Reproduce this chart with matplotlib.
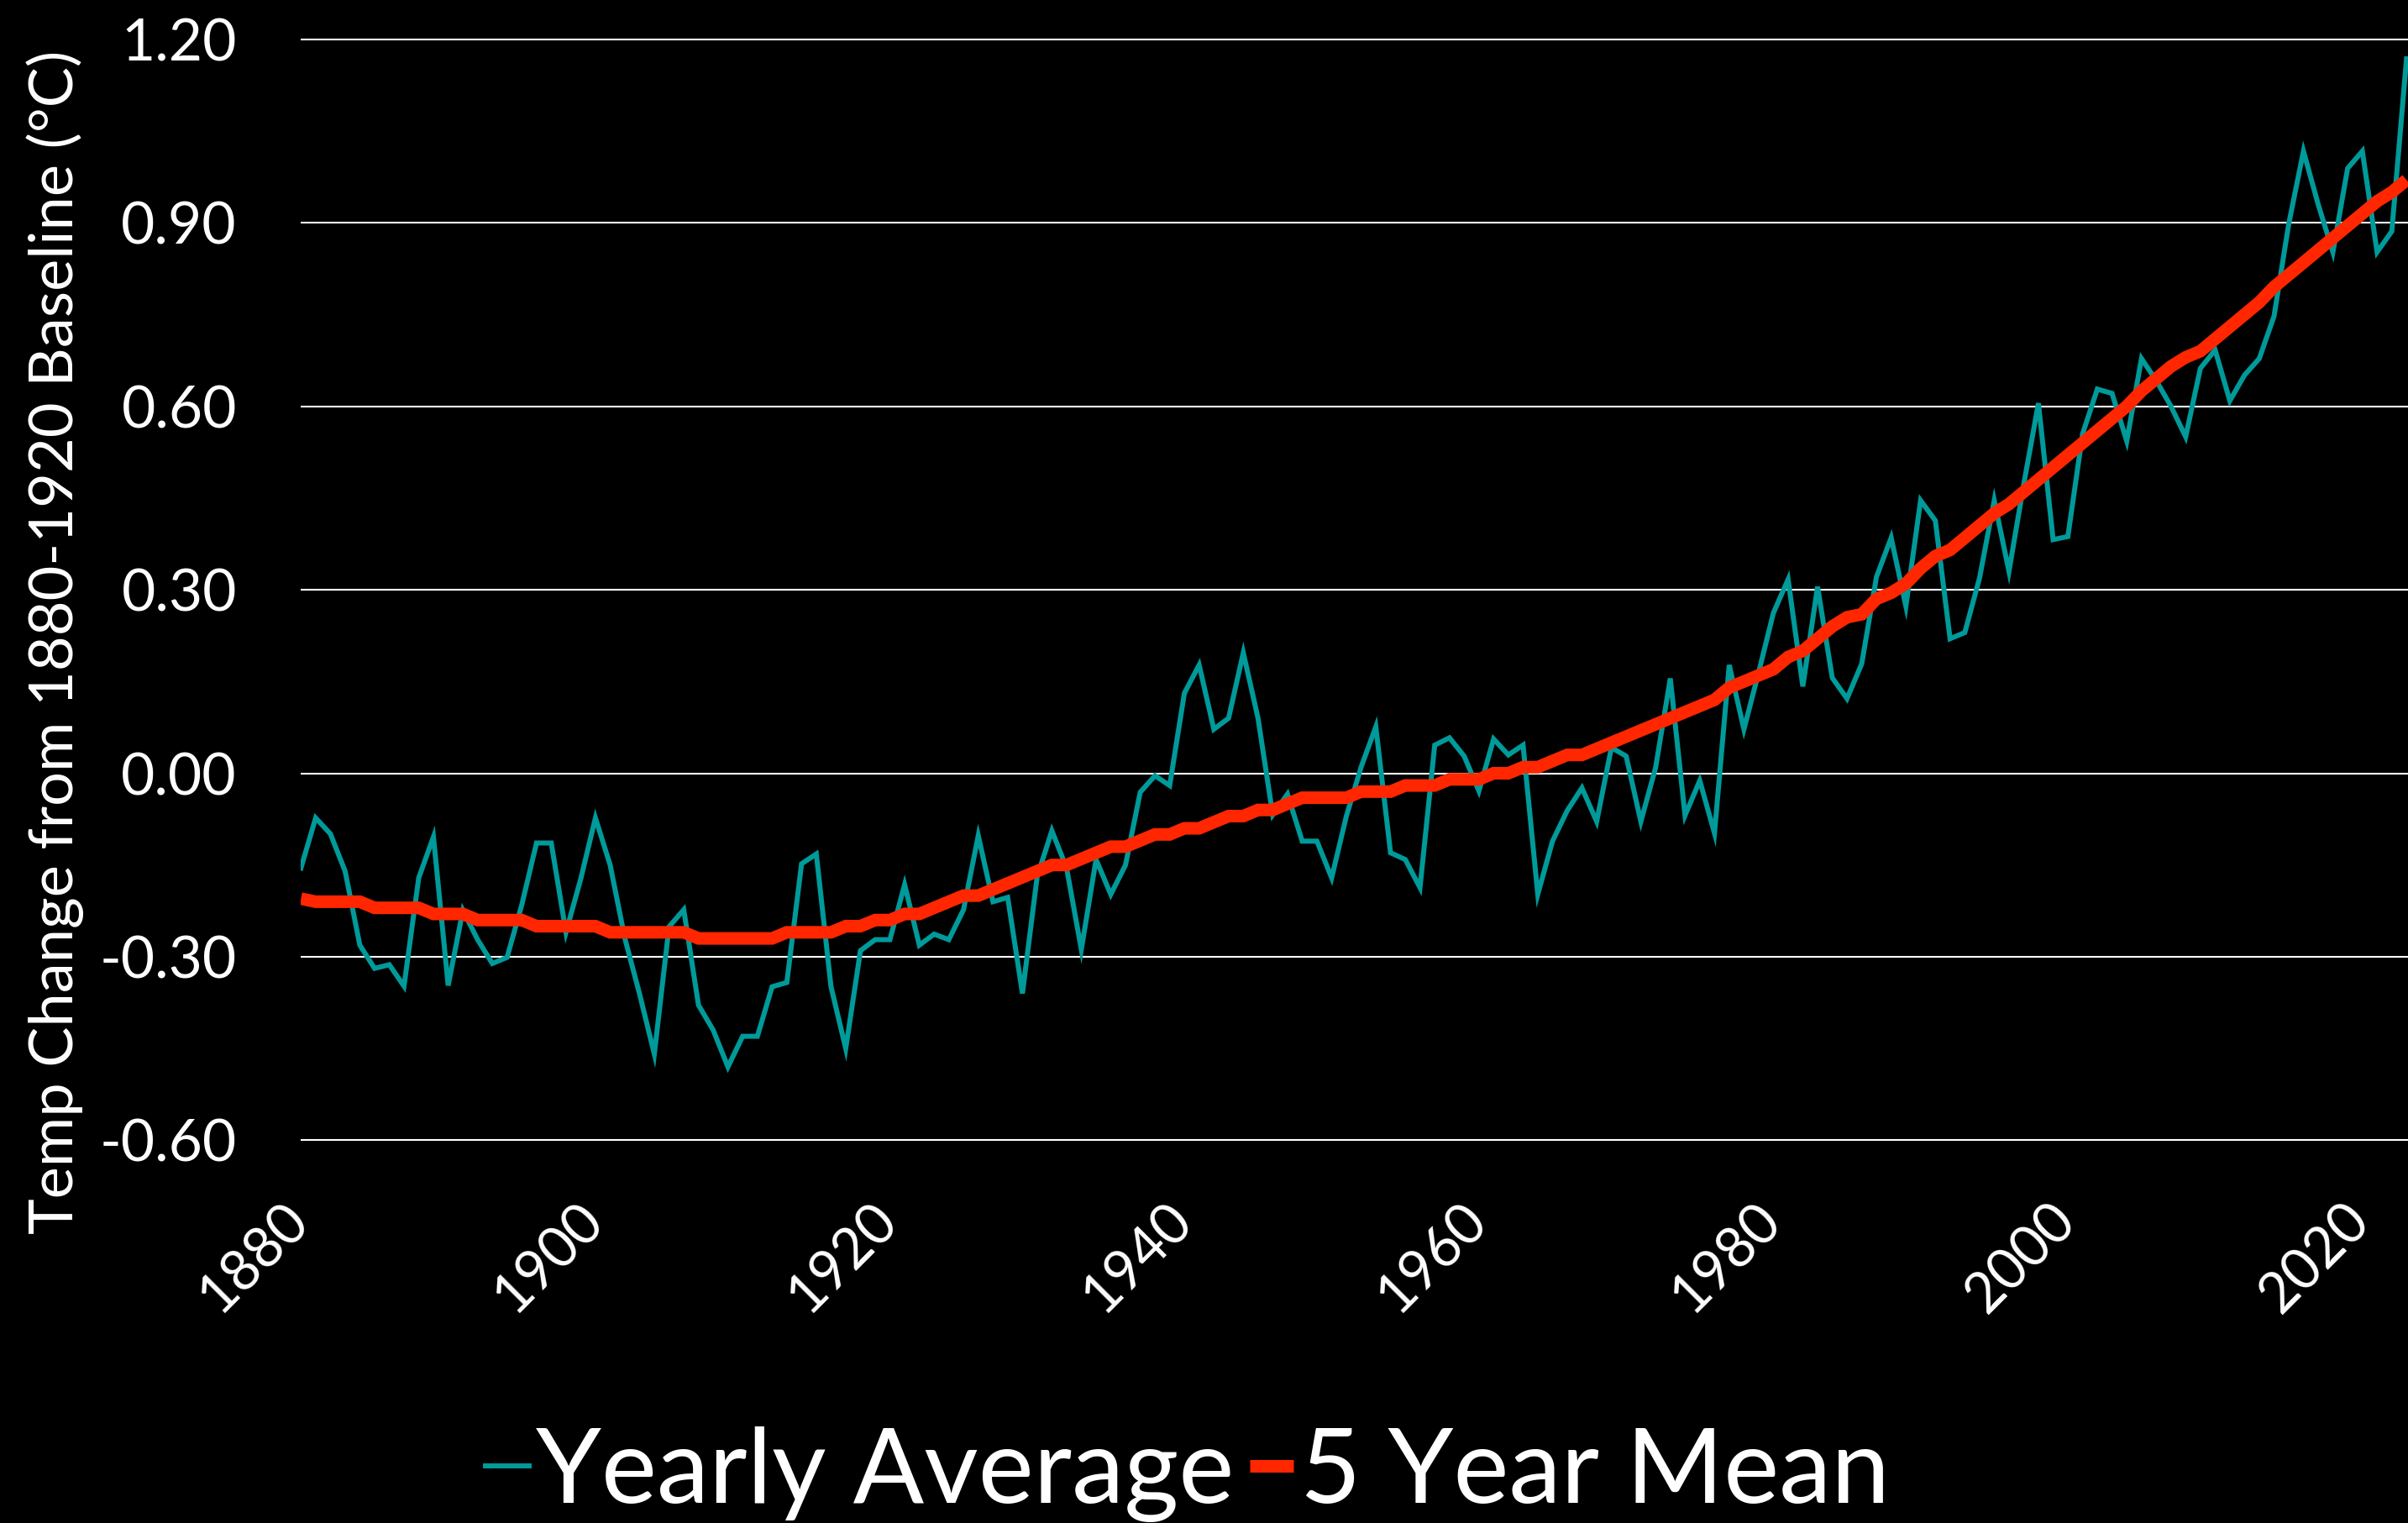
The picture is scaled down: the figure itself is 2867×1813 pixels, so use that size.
import matplotlib
matplotlib.use("Agg")
import matplotlib.pyplot as plt
from matplotlib.transforms import ScaledTranslation

plt.rcParams['font.family'] = ['Lato', 'DejaVu Sans']

# yearly temperature change, 1880-2023
years = list(range(1880, 2024))
yearly = [
    -0.155, -0.073, -0.099, -0.160, -0.281, -0.319, -0.313, -0.348, -0.171, -0.104,  # 1880s
    -0.347, -0.224, -0.272, -0.311, -0.301, -0.215, -0.114, -0.114, -0.260, -0.173,  # 1890s
    -0.073, -0.150, -0.270, -0.361, -0.459, -0.251, -0.223, -0.379, -0.420, -0.480,  # 1900s
    -0.430, -0.430, -0.349, -0.342, -0.148, -0.132, -0.349, -0.450, -0.290, -0.272,  # 1910s
    -0.272, -0.182, -0.281, -0.263, -0.272, -0.223, -0.102, -0.210, -0.203, -0.360,  # 1920s
    -0.169, -0.094, -0.155, -0.288, -0.141, -0.198, -0.150, -0.031, -0.004, -0.020,  # 1930s
    0.131, 0.177, 0.072, 0.090, 0.197, 0.090, -0.068, -0.034, -0.111, -0.111,        # 1940s
    -0.171, -0.070, 0.010, 0.076, -0.130, -0.141, -0.187, 0.046, 0.058, 0.028,       # 1950s
    -0.029, 0.056, 0.030, 0.046, -0.198, -0.111, -0.061, -0.024, -0.079, 0.042,      # 1960s
    0.028, -0.079, 0.009, 0.155, -0.069, -0.012, -0.098, 0.177, 0.072, 0.165,        # 1970s
    0.262, 0.317, 0.142, 0.305, 0.156, 0.122, 0.179, 0.321, 0.385, 0.273,            # 1980s
    0.446, 0.413, 0.220, 0.230, 0.319, 0.446, 0.330, 0.472, 0.605, 0.382,            # 1990s
    0.387, 0.555, 0.628, 0.621, 0.543, 0.678, 0.642, 0.600, 0.550, 0.662,            # 2000s
    0.692, 0.609, 0.651, 0.678, 0.747, 0.898, 1.017, 0.930, 0.852, 0.989,            # 2010s
    1.017, 0.852, 0.886, 1.168,                                                      # 2020s
]

# 5 year mean
mean5 = [
    -0.205, -0.21, -0.21, -0.21, -0.21, -0.22, -0.22, -0.22, -0.22, -0.23,
    -0.23, -0.23, -0.24, -0.24, -0.24, -0.24, -0.25, -0.25, -0.25, -0.25,
    -0.25, -0.26, -0.26, -0.26, -0.26, -0.26, -0.26, -0.27, -0.27, -0.27,
    -0.27, -0.27, -0.27, -0.26, -0.26, -0.26, -0.26, -0.25, -0.25, -0.24,
    -0.24, -0.23, -0.23, -0.22, -0.21, -0.20, -0.20, -0.19, -0.18, -0.17,
    -0.16, -0.15, -0.15, -0.14, -0.13, -0.12, -0.12, -0.11, -0.10, -0.10,
    -0.09, -0.09, -0.08, -0.07, -0.07, -0.06, -0.06, -0.05, -0.04, -0.04,
    -0.04, -0.04, -0.03, -0.03, -0.03, -0.02, -0.02, -0.02, -0.01, -0.01,
    -0.01, 0.00, 0.00, 0.01, 0.01, 0.02, 0.03, 0.03, 0.04, 0.05,
    0.06, 0.07, 0.08, 0.09, 0.10, 0.11, 0.12, 0.14, 0.15, 0.16,
    0.17, 0.19, 0.20, 0.22, 0.24, 0.255, 0.26, 0.285, 0.295, 0.31,
    0.335, 0.355, 0.365, 0.385, 0.405, 0.425, 0.44, 0.46, 0.48, 0.50,
    0.52, 0.54, 0.56, 0.58, 0.60, 0.625, 0.645, 0.665, 0.68, 0.69,
    0.71, 0.73, 0.75, 0.77, 0.795, 0.815, 0.835, 0.855, 0.875, 0.895,
    0.915, 0.935, 0.95, 0.97,
]

yticks = [-0.60, -0.30, 0.00, 0.30, 0.60, 0.90, 1.20]
xticks = [1880, 1900, 1920, 1940, 1960, 1980, 2000, 2020]
ylabel = 'Temp Change from 1880-1920 Baseline (°C)'

W, H = 2867, 1813
fig = plt.figure(figsize=(W / 100, H / 100), dpi=100, facecolor='black')
left, bottom, top = 358.3, 1357.4, 46.7   # pixel edges of the plot area
ax = fig.add_axes([left / W, 1 - bottom / H, 1 - left / W, (bottom - top) / H])
ax.set_facecolor('black')

ax.hlines(yticks, 1880, 2023.1, color='white', linewidth=1.5, clip_on=False, zorder=0)

teal, = ax.plot(years, yearly, color='#009a9a', linewidth=4.3, label='Yearly Average',
                solid_joinstyle='miter', zorder=2)
red, = ax.plot(years, mean5, color='#ff2600', linewidth=10.8, label='5 Year Mean',
               solid_capstyle='butt', solid_joinstyle='miter', zorder=3)

ax.set_xlim(1880, 2023.1)
ax.set_ylim(-0.6, 1.2)
for s in ax.spines.values():
    s.set_visible(False)

ax.set_yticks(yticks, labels=[f'{v:.2f}' for v in yticks])
ax.tick_params(axis='y', length=0, pad=55, labelsize=50, labelcolor='white')
ax.set_xticks(xticks, labels=[str(x) for x in xticks])
ax.tick_params(axis='x', length=0, pad=45.5, labelsize=48, labelcolor='white')
shift = ScaledTranslation(-0.23, 0, fig.dpi_scale_trans)
for lbl in ax.get_xticklabels():
    lbl.set_rotation(45)
    lbl.set_ha('right')
    lbl.set_va('top')
    lbl.set_rotation_mode('anchor')
    lbl.set_transform(lbl.get_transform() + shift)

fig.text(87 / W, 1 - 764 / H, ylabel, rotation=90, ha='center', va='baseline',
         rotation_mode='anchor', fontsize=52, color='white')

fig.legend(handles=[teal, red], loc='center', bbox_to_anchor=(0.4932, 0.032), ncol=2,
           frameon=False, fontsize=90, labelcolor='white', handlelength=0.42,
           handletextpad=0.064, columnspacing=0.145, borderpad=0, borderaxespad=0)

fig.savefig('out.png', dpi=100, facecolor='black')
